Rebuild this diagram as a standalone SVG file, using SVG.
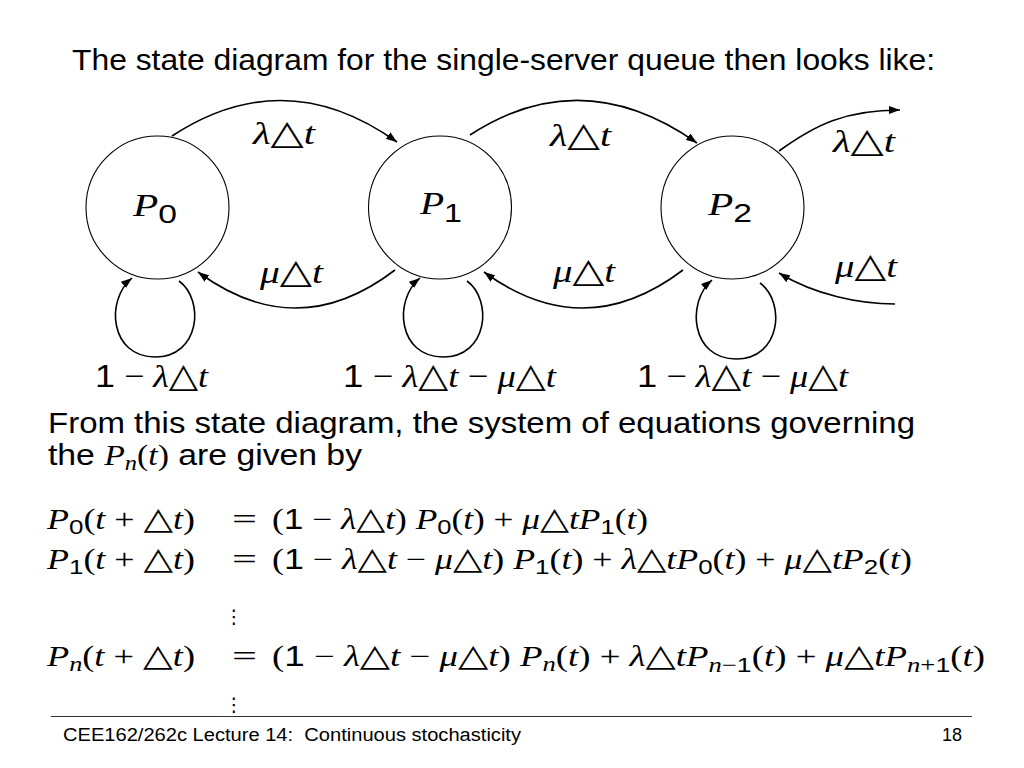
<svg xmlns="http://www.w3.org/2000/svg" width="1024" height="768" viewBox="0 0 1024 768">
<defs>
<style>
text{font-family:"Liberation Serif",serif;fill:#000}
.sans{font-family:"Liberation Sans",sans-serif}
.i{font-family:"Liberation Serif",serif;font-style:italic}
.d{font-family:"Liberation Sans",sans-serif;font-style:normal}
.t{font-family:"DejaVu Sans",sans-serif;font-style:normal}
.node{fill:#fff;stroke:#000;stroke-width:1.1}
.edge{fill:none;stroke:#000;stroke-width:1.6;marker-end:url(#ah)}
.lbl{font-size:32px}
.lbl .t{font-size:34px}
.eq{font-size:29px}
.eq .t{font-size:31px}
.sb{font-size:21px}
.dots{font-family:"DejaVu Sans",sans-serif;font-size:19px}
</style>
<marker id="ah" markerUnits="userSpaceOnUse" markerWidth="12" markerHeight="8" refX="11" refY="4" orient="auto">
<path d="M0,0 L11,4 L0,8 z" fill="#000"/>
</marker>
</defs>
<rect width="1024" height="768" fill="#fff"/>

<text class="sans" x="72" y="70" font-size="29" textLength="863" lengthAdjust="spacingAndGlyphs">The state diagram for the single-server queue then looks like:</text>

<g id="connectors">
<path class="edge" d="M172,136 Q285,62 397,142"/>
<path class="edge" d="M470,135 Q582,62 697,143"/>
<path class="edge" d="M779,151 C815,125 845,110 900,110"/>
<path class="edge" d="M395,270 Q297,345 198,272"/>
<path class="edge" d="M683,270 Q584,345 484,272"/>
<path class="edge" d="M895,304 C860,304 815,295 779,273"/>
<path class="edge" d="M179,281 C205,300 200,357 155,357 C110,357 105,300 132,278"/>
<path class="edge" d="M467,281 C493,300 488,357 443,357 C398,357 393,300 420,278"/>
<path class="edge" d="M760,283 C786,302 781,359 736,359 C691,359 686,302 712,280"/>
</g>

<g id="node-P0">
<circle class="node" cx="157.5" cy="207.5" r="71.5"/>
<text x="133" y="216" font-size="32" textLength="44" lengthAdjust="spacingAndGlyphs"><tspan class="i">P</tspan><tspan class="d" font-size="26" dy="7">0</tspan></text>
</g>
<g id="node-P1">
<circle class="node" cx="440" cy="207.5" r="71.5"/>
<text x="420" y="214" font-size="32" textLength="42" lengthAdjust="spacingAndGlyphs"><tspan class="i">P</tspan><tspan class="d" font-size="26" dy="8">1</tspan></text>
</g>
<g id="node-P2">
<circle class="node" cx="732.5" cy="207.5" r="71.5"/>
<text x="708" y="215" font-size="32" textLength="44" lengthAdjust="spacingAndGlyphs"><tspan class="i">P</tspan><tspan class="d" font-size="26" dy="7">2</tspan></text>
</g>

<g id="edge-labels" class="lbl">
<text x="253" y="144" textLength="62" lengthAdjust="spacingAndGlyphs"><tspan class="i">λ</tspan><tspan class="t">△</tspan><tspan class="i">t</tspan></text>
<text x="550" y="146" textLength="61" lengthAdjust="spacingAndGlyphs"><tspan class="i">λ</tspan><tspan class="t">△</tspan><tspan class="i">t</tspan></text>
<text x="833" y="152" textLength="62" lengthAdjust="spacingAndGlyphs"><tspan class="i">λ</tspan><tspan class="t">△</tspan><tspan class="i">t</tspan></text>
<text x="260" y="283" textLength="63" lengthAdjust="spacingAndGlyphs"><tspan class="i">μ</tspan><tspan class="t">△</tspan><tspan class="i">t</tspan></text>
<text x="553" y="282" textLength="62" lengthAdjust="spacingAndGlyphs"><tspan class="i">μ</tspan><tspan class="t">△</tspan><tspan class="i">t</tspan></text>
<text x="835" y="277" textLength="62" lengthAdjust="spacingAndGlyphs"><tspan class="i">μ</tspan><tspan class="t">△</tspan><tspan class="i">t</tspan></text>
<text x="95" y="387" textLength="113" lengthAdjust="spacingAndGlyphs"><tspan class="d">1</tspan> − <tspan class="i">λ</tspan><tspan class="t">△</tspan><tspan class="i">t</tspan></text>
<text x="343" y="387" textLength="213" lengthAdjust="spacingAndGlyphs"><tspan class="d">1</tspan> − <tspan class="i">λ</tspan><tspan class="t">△</tspan><tspan class="i">t</tspan> − <tspan class="i">μ</tspan><tspan class="t">△</tspan><tspan class="i">t</tspan></text>
<text x="637" y="387" textLength="211" lengthAdjust="spacingAndGlyphs"><tspan class="d">1</tspan> − <tspan class="i">λ</tspan><tspan class="t">△</tspan><tspan class="i">t</tspan> − <tspan class="i">μ</tspan><tspan class="t">△</tspan><tspan class="i">t</tspan></text>
</g>

<text class="sans" x="48" y="433" font-size="29" textLength="867" lengthAdjust="spacingAndGlyphs">From this state diagram, the system of equations governing</text>
<text x="48" y="465" font-size="29" textLength="314" lengthAdjust="spacingAndGlyphs"><tspan class="sans">the </tspan><tspan class="i">P</tspan><tspan class="i" font-size="21" dy="5">n</tspan><tspan dy="-5">(</tspan><tspan class="i">t</tspan>)<tspan class="sans"> are given by</tspan></text>

<g id="equations" class="eq">
<text x="47" y="529" textLength="148" lengthAdjust="spacingAndGlyphs"><tspan class="i">P</tspan><tspan class="d sb" dy="5">0</tspan><tspan dy="-5">(</tspan><tspan class="i">t</tspan> + <tspan class="t">△</tspan><tspan class="i">t</tspan>)</text>
<text x="232" y="529" textLength="25" lengthAdjust="spacingAndGlyphs">=</text>
<text x="272" y="529" textLength="376" lengthAdjust="spacingAndGlyphs">(<tspan class="d">1</tspan> − <tspan class="i">λ</tspan><tspan class="t">△</tspan><tspan class="i">t</tspan>) <tspan class="i">P</tspan><tspan class="d sb" dy="5">0</tspan><tspan dy="-5">(</tspan><tspan class="i">t</tspan>) + <tspan class="i">μ</tspan><tspan class="t">△</tspan><tspan class="i">tP</tspan><tspan class="d sb" dy="5">1</tspan><tspan dy="-5">(</tspan><tspan class="i">t</tspan>)</text>

<text x="47" y="569" textLength="148" lengthAdjust="spacingAndGlyphs"><tspan class="i">P</tspan><tspan class="d sb" dy="5">1</tspan><tspan dy="-5">(</tspan><tspan class="i">t</tspan> + <tspan class="t">△</tspan><tspan class="i">t</tspan>)</text>
<text x="232" y="569" textLength="25" lengthAdjust="spacingAndGlyphs">=</text>
<text x="272" y="569" textLength="640" lengthAdjust="spacingAndGlyphs">(<tspan class="d">1</tspan> − <tspan class="i">λ</tspan><tspan class="t">△</tspan><tspan class="i">t</tspan> − <tspan class="i">μ</tspan><tspan class="t">△</tspan><tspan class="i">t</tspan>) <tspan class="i">P</tspan><tspan class="d sb" dy="5">1</tspan><tspan dy="-5">(</tspan><tspan class="i">t</tspan>) + <tspan class="i">λ</tspan><tspan class="t">△</tspan><tspan class="i">tP</tspan><tspan class="d sb" dy="5">0</tspan><tspan dy="-5">(</tspan><tspan class="i">t</tspan>) + <tspan class="i">μ</tspan><tspan class="t">△</tspan><tspan class="i">tP</tspan><tspan class="d sb" dy="5">2</tspan><tspan dy="-5">(</tspan><tspan class="i">t</tspan>)</text>

<text class="dots" x="234" y="623" text-anchor="middle">⋮</text>

<text x="47" y="666" textLength="148" lengthAdjust="spacingAndGlyphs"><tspan class="i">P</tspan><tspan class="i sb" dy="5">n</tspan><tspan dy="-5">(</tspan><tspan class="i">t</tspan> + <tspan class="t">△</tspan><tspan class="i">t</tspan>)</text>
<text x="232" y="666" textLength="25" lengthAdjust="spacingAndGlyphs">=</text>
<text x="272" y="666" textLength="713" lengthAdjust="spacingAndGlyphs">(<tspan class="d">1</tspan> − <tspan class="i">λ</tspan><tspan class="t">△</tspan><tspan class="i">t</tspan> − <tspan class="i">μ</tspan><tspan class="t">△</tspan><tspan class="i">t</tspan>) <tspan class="i">P</tspan><tspan class="i sb" dy="5">n</tspan><tspan dy="-5">(</tspan><tspan class="i">t</tspan>) + <tspan class="i">λ</tspan><tspan class="t">△</tspan><tspan class="i">tP</tspan><tspan class="sb" dy="6"><tspan class="i">n</tspan>−<tspan class="d">1</tspan></tspan><tspan dy="-6">(</tspan><tspan class="i">t</tspan>) + <tspan class="i">μ</tspan><tspan class="t">△</tspan><tspan class="i">tP</tspan><tspan class="sb" dy="6"><tspan class="i">n</tspan>+<tspan class="d">1</tspan></tspan><tspan dy="-6">(</tspan><tspan class="i">t</tspan>)</text>

<text class="dots" x="234" y="711" text-anchor="middle">⋮</text>
</g>

<line x1="51" y1="716.5" x2="972" y2="716.5" stroke="#333" stroke-width="1.2"/>
<text class="sans" x="63" y="741" font-size="18" textLength="458" lengthAdjust="spacingAndGlyphs">CEE162/262c Lecture 14:&#160; Continuous stochasticity</text>
<text class="sans" x="962" y="741" font-size="18" text-anchor="end">18</text>
</svg>
